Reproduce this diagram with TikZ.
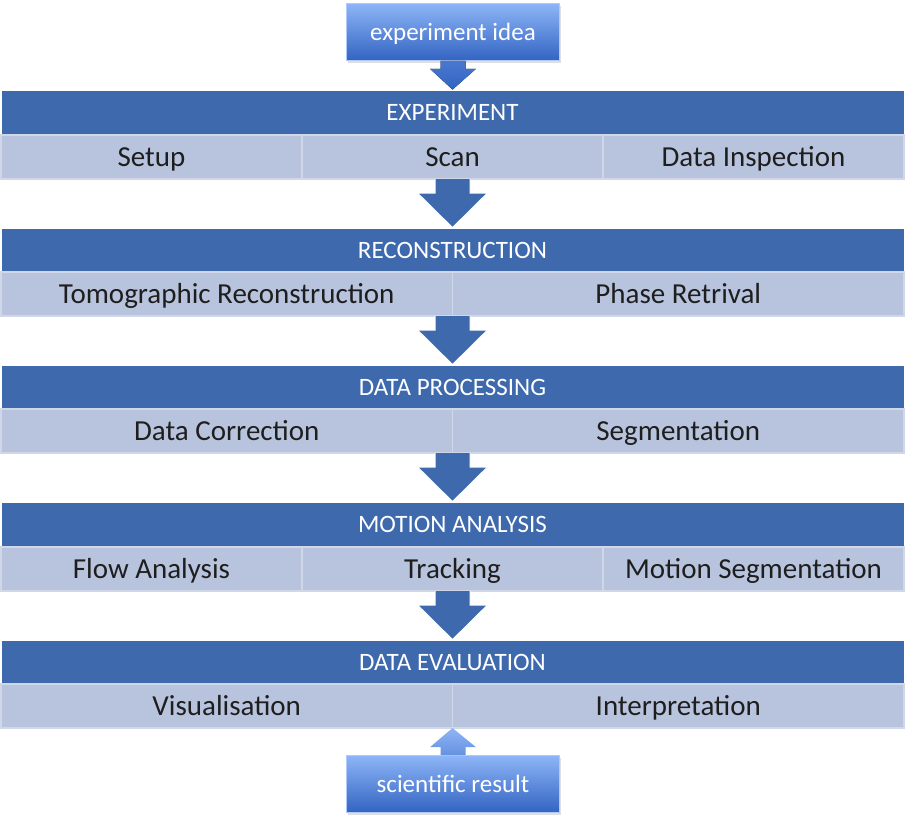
\documentclass[tikz,border=0pt]{standalone}
\usepackage{fontspec}
\setmainfont{Carlito}
\usetikzlibrary{calc,shadows}
\definecolor{hdrblue}{HTML}{3E6AAD}
\definecolor{subblue}{HTML}{B8C4DD}
\definecolor{sepblue}{HTML}{CFD7E8}
\definecolor{boxtop}{HTML}{8EB5F7}
\definecolor{boxbot}{HTML}{3264C2}
\definecolor{txt}{HTML}{1E1E1E}
\begin{document}
\begin{tikzpicture}[x=1pt,y=-1pt,
  hdr/.style={fill=hdrblue, draw=white, line width=0.8pt, minimum width=903pt, minimum height=44pt,
    inner sep=0pt, text=white, font=\fontsize{25}{30}\selectfont, text height=20pt, text depth=4pt},
  cellthree/.style={fill=subblue, draw=sepblue, line width=1.2pt, minimum width=301pt, minimum height=44pt,
    inner sep=0pt, text=txt, font=\fontsize{29}{34}\selectfont, text height=25pt, text depth=6.4pt},
  celltwo/.style={cellthree, minimum width=451.5pt},
  smallbox/.style={top color=boxtop, bottom color=boxbot, draw=boxtop!70!white, line width=0.6pt,
    minimum width=213pt, minimum height=57pt, inner sep=0pt, text=white,
    font=\fontsize{25}{30}\selectfont, text height=20pt, text depth=4pt,
    drop shadow={opacity=0.25, shadow xshift=1.5pt, shadow yshift=-2pt}},
  bigarrow/.style={fill=hdrblue, draw=white, line width=1pt, line join=miter},
  smallarrow/.style={top color=boxbot!75!boxtop, bottom color=boxbot, draw=none},
]
\path[use as bounding box] (0,0) rectangle (911,831);

% Row 1
\node[hdr] (h1) at (452.5,112) {EXPERIMENT};
\node[cellthree] (c11) at (151.5,157) {Setup};
\node[cellthree] (c12) at (452.5,157) {Scan};
\node[cellthree] (c13) at (753.5,157) {Data Inspection};
\coordinate (b1) at (452.5,179);

% Row 2
\node[hdr] (h2) at (452.5,250) {RECONSTRUCTION};
\node[celltwo] (c21) at (226.75,294) {Tomographic Reconstruction};
\node[celltwo] (c22) at (678.25,294) {Phase Retrival};
\coordinate (b2) at (452.5,316);

% Row 3
\node[hdr] (h3) at (452.5,387) {DATA PROCESSING};
\node[celltwo] (c31) at (226.75,431) {Data Correction};
\node[celltwo] (c32) at (678.25,431) {Segmentation};
\coordinate (b3) at (452.5,453);

% Row 4
\node[hdr] (h4) at (452.5,524) {MOTION ANALYSIS};
\node[cellthree] (c41) at (151.5,569) {Flow Analysis};
\node[cellthree] (c42) at (452.5,569) {Tracking};
\node[cellthree] (c43) at (753.5,569) {Motion Segmentation};
\coordinate (b4) at (452.5,591);

% Row 5
\node[hdr] (h5) at (452.5,662) {DATA EVALUATION};
\node[celltwo] (c51) at (226.75,706) {Visualisation};
\node[celltwo] (c52) at (678.25,706) {Interpretation};
\coordinate (b5) at (452.5,728);

% Big arrows between rows
\foreach \a/\b in {b1/h2, b2/h3, b3/h4, b4/h5}{
  \draw[bigarrow] ($(\a)+(-17.5,0)$) -- ++(0,14) -- ++(-17.5,0) -- (\b.north)
    -- ($(\a)+(35,14)$) -- ++(-17.5,0) -- ++(0,-14);
}

% Top box and arrow
\node[smallbox] (idea) at (453,32) {experiment idea};
\fill[smallarrow] ($(idea.south)+(-12.5,0)$) -- ++(0,8) -- ++(-10.5,0) -- (h1.north)
  -- ($(idea.south)+(23,8)$) -- ++(-10.5,0) -- ++(0,-8) -- cycle;

% Bottom box and arrow
\node[smallbox] (result) at (453,784) {scientific result};
\path[top color=boxtop, bottom color=boxtop!55!boxbot] ($(result.north)+(-12.5,0)$) -- ++(0,-8) -- ++(-10.5,0) -- (b5)
  -- ($(result.north)+(23,-8)$) -- ++(-10.5,0) -- ++(0,8) -- cycle;
\end{tikzpicture}
\end{document}
